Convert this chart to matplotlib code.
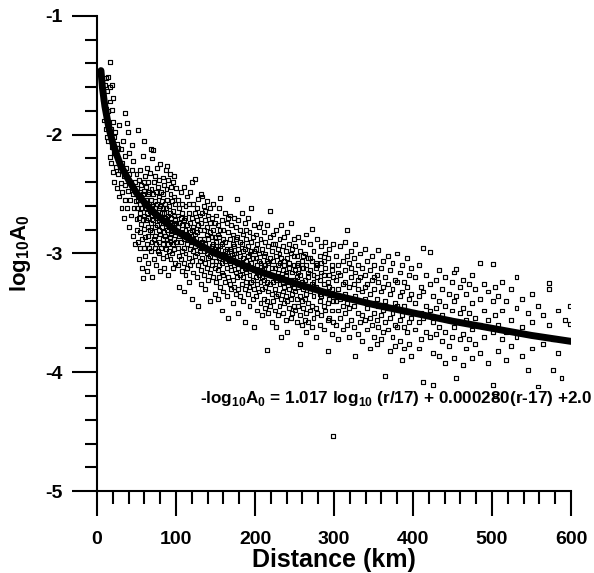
import numpy as np
import matplotlib
matplotlib.use('Agg')
import matplotlib.pyplot as plt
from matplotlib.ticker import MultipleLocator

plt.rcParams['font.family'] = ['Liberation Sans', 'DejaVu Sans']
plt.rcParams['mathtext.fontset'] = 'custom'
plt.rcParams['mathtext.rm'] = 'Liberation Sans'
plt.rcParams['mathtext.bf'] = 'Liberation Sans:bold'
plt.rcParams['axes.unicode_minus'] = False

# fitted attenuation curve
curve_r = [5, 7, 10, 15, 20, 25, 30, 40, 50, 60, 70, 80, 100, 125, 150, 200,
           250, 300, 350, 400, 450, 500, 550, 600]
curve_a = [-1.46, -1.61, -1.76, -1.94, -2.07, -2.17, -2.26, -2.38, -2.49, -2.57,
           -2.64, -2.70, -2.81, -2.91, -3.00, -3.14, -3.25, -3.35, -3.43, -3.50,
           -3.57, -3.63, -3.69, -3.74]

# observations: each distance column with its log10 A0 values
near_r = [6, 7, 8, 9, 10, 11, 12, 13, 14, 15, 16, 17, 18, 19, 20, 21, 22, 23, 24,
          25, 26, 27, 28, 29, 30, 31, 32, 33, 34, 35, 36, 37, 38, 39, 40, 41, 42,
          43, 44, 45, 46, 47, 48, 49, 50]
near_a = [[-1.52], [-1.70], [-1.62], [-1.88], [-1.58], [-1.52, -1.95], [-1.78],
          [-1.63, -2.02], [-1.51, -1.80, -2.05], [-1.92], [-1.39, -1.60, -2.19],
          [-1.72], [-1.95, -2.24], [-1.58, -1.79, -2.10], [-1.69, -1.89, -2.31],
          [-2.02], [-2.15, -2.40], [-1.98], [-2.27], [-2.08, -2.45], [-2.11, -2.33],
          [-2.20], [-1.92, -2.52], [-2.30], [-2.12, -2.41], [-2.62], [-2.24, -2.48],
          [-2.05], [-2.35, -2.70], [-2.18, -2.55], [-1.82, -2.42], [-2.28],
          [-1.90, -2.62], [-1.98, -2.47], [-2.33, -2.78], [-2.15], [-2.55, -2.40],
          [-2.68], [-2.09, -2.30], [-2.50, -2.85], [-2.22], [-2.62], [-2.40, -2.92],
          [-2.56], [-2.33, -2.71]]

mid_r = list(range(51, 101))
mid_a = [[-2.45, -2.80, -2.62], [-1.96, -2.55, -2.90], [-2.38, -2.70, -3.05],
         [-2.58, -2.48, -2.82], [-2.30, -2.66, -2.95], [-2.52, -2.75, -2.42],
         [-2.62, -2.88, -3.12], [-2.18, -2.50, -3.21, -2.72], [-2.40, -2.68, -2.95],
         [-2.05, -2.58, -2.79, -2.47], [-2.35, -2.62, -2.86, -3.02],
         [-2.55, -2.72, -2.44], [-2.28, -2.66, -2.92, -3.15], [-2.50, -2.78, -2.60],
         [-2.40, -2.70, -2.85, -3.08], [-2.58, -2.95, -2.48], [-2.32, -2.64, -2.80],
         [-2.12, -2.55, -2.74, -2.98], [-2.46, -2.68, -2.90],
         [-2.20, -2.60, -2.82, -3.20], [-2.13, -2.50, -2.72],
         [-2.40, -2.66, -2.88, -3.05], [-2.56, -2.78, -2.95], [-2.35, -2.62, -2.85],
         [-2.48, -2.70, -3.10, -2.92], [-2.28, -2.58, -2.76], [-2.44, -2.68, -2.98],
         [-2.52, -2.80, -3.00, -2.62], [-2.38, -2.72, -2.90],
         [-2.25, -2.60, -2.84, -3.15], [-2.48, -2.70, -2.95], [-2.56, -2.78, -2.66],
         [-2.36, -2.62, -2.88, -3.04], [-2.50, -2.74, -2.92],
         [-2.42, -2.66, -2.82, -3.12], [-2.58, -2.85, -2.70], [-2.30, -2.62, -2.96],
         [-2.46, -2.72, -2.88, -3.02], [-2.26, -2.55, -2.80],
         [-2.38, -2.68, -2.92, -3.18], [-2.60, -2.78, -2.98], [-2.33, -2.66, -2.86],
         [-2.50, -2.74, -3.05, -2.90], [-2.44, -2.70, -2.84], [-2.56, -2.80, -3.00],
         [-2.40, -2.64, -2.92, -3.12], [-2.52, -2.76, -2.88], [-2.35, -2.68, -2.96],
         [-2.58, -2.82, -3.08, -2.72], [-2.45, -2.74, -2.90]]

r100_r = [102, 104, 106, 108, 110, 112, 114, 116, 118, 120, 122, 124, 126, 128,
          130, 132, 133, 135, 137, 139, 141, 143, 145, 147, 149]
r100_a = [[-2.55, -2.78, -2.95, -3.10, -2.68], [-2.62, -2.85, -3.02, -2.74, -3.28],
          [-2.48, -2.70, -2.90, -3.05, -2.82], [-2.58, -2.76, -2.98, -3.15, -2.66],
          [-2.44, -2.72, -2.88, -3.08, -2.95, -3.32], [-2.60, -2.80, -3.00, -2.70, -3.18],
          [-2.52, -2.76, -2.92, -3.12, -2.84], [-2.66, -2.86, -3.04, -2.58, -3.24],
          [-2.48, -2.74, -2.96, -3.10, -2.82], [-2.40, -2.70, -2.90, -3.06, -2.80, -3.38],
          [-2.58, -2.78, -2.98, -3.16, -2.88], [-2.37, -2.66, -2.84, -3.02, -2.94],
          [-2.62, -2.82, -3.00, -3.20, -2.72], [-2.54, -2.76, -2.92, -3.10, -3.44],
          [-2.68, -2.88, -3.06, -2.80, -2.98], [-2.50, -2.74, -2.95, -3.14, -3.26],
          [-2.66, -2.90, -3.04, -2.52], [-2.60, -2.80, -2.98, -3.18, -2.88],
          [-2.72, -2.92, -3.08, -3.30, -2.64], [-2.56, -2.84, -3.00, -3.12, -2.78],
          [-2.68, -2.88, -3.04, -3.22, -2.96], [-2.62, -2.82, -3.02, -3.16, -2.74, -3.40],
          [-2.70, -2.94, -3.10, -2.86, -3.06], [-2.58, -2.80, -3.00, -3.20, -2.92],
          [-2.74, -2.96, -3.12, -3.34, -2.86]]

r150_r = [151, 153, 155, 156, 158, 160, 162, 164, 166, 168, 170, 172, 174, 176,
          177, 179, 181, 183, 185, 187, 189, 191, 193, 195, 197, 199]
r150_a = [[-2.68, -2.90, -3.06, -3.24, -2.98], [-2.76, -2.96, -3.14, -2.84, -3.38],
          [-2.62, -2.86, -3.04, -3.20, -3.10], [-2.53, -2.80, -2.94, -3.28],
          [-2.72, -2.92, -3.08, -3.16, -3.48], [-2.80, -3.00, -3.18, -2.88, -3.32],
          [-2.66, -2.90, -3.06, -3.24, -2.98], [-2.74, -2.96, -3.12, -3.36, -3.04],
          [-2.82, -3.02, -3.20, -2.70, -3.54], [-2.68, -2.88, -3.08, -3.26, -2.96],
          [-2.76, -2.98, -3.14, -3.30, -3.06], [-2.84, -3.04, -3.22, -2.92, -3.42],
          [-2.70, -2.94, -3.10, -3.28, -3.00], [-2.78, -3.00, -3.16, -3.34, -2.88],
          [-2.54, -2.86, -3.08, -3.20], [-2.72, -2.96, -3.12, -3.30, -3.50],
          [-2.80, -3.02, -3.18, -2.90, -3.36], [-2.66, -2.92, -3.08, -3.26, -3.14],
          [-2.84, -3.04, -3.20, -3.40, -2.98], [-2.74, -2.96, -3.12, -3.30, -3.58],
          [-2.88, -3.06, -3.24, -2.80, -3.16], [-2.70, -2.94, -3.10, -3.34, -3.02],
          [-2.82, -3.00, -3.18, -3.44, -3.28], [-2.62, -2.90, -3.08, -3.24, -2.98],
          [-2.86, -3.04, -3.22, -3.38, -3.12], [-2.76, -2.98, -3.14, -3.30, -3.62]]

r200_r = [201, 203, 205, 207, 209, 211, 213, 215, 217, 219, 221, 223, 225, 227,
          229, 231, 233, 235, 237, 239, 241, 243, 245, 247, 249]
r200_a = [[-2.84, -3.04, -3.20, -3.36, -2.96], [-2.92, -3.10, -3.26, -3.48, -3.16],
          [-2.78, -3.00, -3.18, -3.32, -3.06], [-2.88, -3.08, -3.24, -3.42, -2.74],
          [-2.96, -3.14, -3.30, -3.52, -3.20], [-2.82, -3.02, -3.22, -3.38, -3.12],
          [-2.90, -3.10, -3.28, -3.46, -3.00], [-2.76, -3.06, -3.24, -3.40, -3.81],
          [-2.94, -3.16, -3.32, -3.50, -3.08], [-2.64, -2.86, -3.04, -3.26, -3.44],
          [-2.98, -3.18, -3.34, -3.12, -3.58], [-2.84, -3.06, -3.24, -3.40, -2.92],
          [-2.92, -3.12, -3.30, -3.48, -3.20], [-2.80, -3.02, -3.22, -3.36, -3.62],
          [-2.96, -3.16, -3.34, -3.52, -3.10], [-2.88, -3.08, -3.26, -3.44, -3.00],
          [-2.76, -3.04, -3.20, -3.38, -3.70], [-2.94, -3.14, -3.32, -3.50, -3.24],
          [-2.86, -3.10, -3.28, -3.42, -3.06], [-2.98, -3.18, -3.36, -3.56, -3.16],
          [-2.82, -3.04, -3.24, -3.40, -3.66], [-2.92, -3.12, -3.30, -3.46, -3.08],
          [-2.74, -3.00, -3.22, -3.38, -3.54], [-2.96, -3.16, -3.34, -3.50, -3.26],
          [-2.88, -3.10, -3.28, -3.44, -3.02]]

r250_r = [251, 253, 255, 257, 259, 261, 263, 265, 267, 270, 272, 274, 277, 279,
          282, 284, 287, 289, 292, 294, 297, 299]
r250_a = [[-2.94, -3.14, -3.32, -3.48, -3.22], [-3.02, -3.20, -3.38, -3.58, -3.10],
          [-2.86, -3.08, -3.28, -3.44, -3.16], [-2.98, -3.18, -3.36, -3.52, -3.76],
          [-3.06, -3.24, -3.40, -3.60, -3.12], [-2.90, -3.12, -3.30, -3.46, -3.02],
          [-3.00, -3.22, -3.38, -3.56, -3.28], [-2.84, -3.10, -3.34, -3.50, -3.66],
          [-3.04, -3.20, -3.42, -3.16, -3.58], [-2.92, -3.14, -3.32, -3.48, -3.04],
          [-2.79, -3.06, -3.26, -3.44, -3.62], [-2.98, -3.18, -3.36, -3.54, -3.24],
          [-3.08, -3.28, -3.46, -3.12, -3.70], [-2.88, -3.10, -3.30, -3.50, -3.20],
          [-3.02, -3.22, -3.40, -3.60, -3.34], [-2.94, -3.16, -3.36, -3.52, -3.08],
          [-3.06, -3.26, -3.44, -3.64, -3.18], [-2.90, -3.12, -3.32, -3.48, -3.00],
          [-3.04, -3.24, -3.42, -3.82, -3.56], [-2.96, -3.18, -3.38, -3.54, -3.28],
          [-3.10, -3.30, -3.48, -3.14, -3.68], [-2.92, -3.20, -3.40, -3.58, -4.54]]

r300_r = [302, 305, 308, 311, 314, 316, 319, 322, 325, 327, 330, 333, 336, 339,
          342, 345, 348, 351, 354, 356, 359, 362, 365, 368, 371, 374, 377, 380,
          383, 386, 389, 392, 395, 398]
r300_a = [[-3.02, -3.22, -3.40, -3.60], [-3.10, -3.30, -3.48, -3.16, -3.72],
          [-2.94, -3.18, -3.38, -3.54], [-3.06, -3.26, -3.44, -3.64],
          [-2.90, -3.14, -3.34, -3.50, -3.24], [-2.80, -3.02, -3.42, -3.60],
          [-3.08, -3.28, -3.46, -3.70], [-2.98, -3.20, -3.38, -3.56, -3.12],
          [-3.04, -3.26, -3.44, -3.62], [-2.92, -3.16, -3.36, -3.86],
          [-3.10, -3.30, -3.50, -3.68, -3.22], [-3.00, -3.20, -3.40, -3.58],
          [-3.12, -3.32, -3.52, -3.74], [-2.96, -3.18, -3.38, -3.56, -3.28],
          [-3.06, -3.26, -3.46, -3.64], [-3.14, -3.34, -3.54, -3.80],
          [-3.02, -3.22, -3.42, -3.60], [-3.10, -3.30, -3.50, -3.70, -3.20],
          [-3.18, -3.38, -3.56, -3.76], [-2.97, -3.24, -3.44, -3.62],
          [-3.12, -3.32, -3.52, -3.72], [-3.06, -3.28, -3.48, -3.66],
          [-3.20, -3.40, -3.58, -4.03], [-3.02, -3.26, -3.46, -3.64],
          [-3.14, -3.34, -3.54, -3.82], [-3.08, -3.30, -3.50, -3.70],
          [-3.22, -3.42, -3.60, -3.78], [-3.00, -3.24, -3.44, -3.62],
          [-3.16, -3.36, -3.56, -3.74], [-3.10, -3.32, -3.52, -3.90],
          [-3.24, -3.44, -3.62, -3.80], [-3.04, -3.28, -3.48, -3.66],
          [-3.18, -3.38, -3.58, -3.76], [-3.12, -3.34, -3.54, -3.86]]

r400_r = [403, 407, 410, 413, 417, 421, 425, 429, 433, 437, 441, 445, 449, 452,
          455, 459, 463, 467, 471, 475, 479, 485, 490, 495, 501, 504]
r400_a = [[-3.20, -3.42, -3.64], [-3.10, -3.36, -3.58, -3.80], [-3.28, -3.50, -3.72],
          [-2.95, -3.32, -3.54, -4.08], [-3.18, -3.44, -3.66],
          [-2.99, -3.26, -3.48, -3.70], [-3.36, -3.58, -3.84, -4.11],
          [-3.22, -3.46, -3.68], [-3.14, -3.40, -3.62, -3.86], [-3.30, -3.52, -3.74],
          [-3.20, -3.44, -3.66, -3.92], [-3.34, -3.56, -3.78], [-3.24, -3.48, -3.70],
          [-3.16, -3.40, -3.62, -3.88], [-3.13, -3.36, -3.58, -4.05],
          [-3.28, -3.50, -3.72], [-3.22, -3.46, -3.68, -3.94], [-3.34, -3.56, -3.80],
          [-3.26, -3.50, -3.72], [-3.18, -3.42, -3.64, -3.88], [-3.30, -3.54, -3.76],
          [-3.08, -3.38, -3.60, -3.84], [-3.26, -3.48, -3.70], [-3.32, -3.56, -3.92],
          [-3.09, -3.40, -3.66, -4.11], [-3.28, -3.52, -4.20]]

r500_r = [508, 513, 518, 524, 531, 538, 545, 551, 558, 565, 572, 577, 583, 588, 592, 599]
r500_a = [[-3.36, -3.60, -3.82], [-3.24, -3.48, -3.72], [-3.40, -3.66, -3.90],
          [-3.30, -3.56, -3.78], [-3.20, -3.46, -3.70], [-3.38, -3.62, -3.86],
          [-3.50, -3.98], [-3.34, -3.58, -3.80], [-3.44, -4.12], [-3.52, -3.76],
          [-3.25, -3.30, -3.60], [-3.98, -3.72], [-3.48, -3.84], [-4.05], [-3.56],
          [-3.44, -3.59]]

groups = [(near_r, near_a), (mid_r, mid_a), (r100_r, r100_a), (r150_r, r150_a),
          (r200_r, r200_a), (r250_r, r250_a), (r300_r, r300_a), (r400_r, r400_a),
          (r500_r, r500_a)]

dist, amp = [], []
for rs, cols in groups:
    for r, vals in zip(rs, cols):
        for v in vals:
            dist.append(r)
            amp.append(v)

fig = plt.figure(figsize=(5.94, 5.73), dpi=100)
ax = fig.add_axes([0.1633, 0.1431, 0.7980, 0.8290])

ax.scatter(dist, amp, s=8, marker='s', facecolors='none', edgecolors='black',
           linewidths=0.85, zorder=2)
ax.plot(curve_r, curve_a, color='black', lw=5, solid_capstyle='round', zorder=3)

ax.set_xlim(0, 600)
ax.set_ylim(-5, -1)
for side in ['top', 'right']:
    ax.spines[side].set_visible(False)
for side in ['left', 'bottom']:
    ax.spines[side].set_linewidth(1.5)

ax.xaxis.set_major_locator(MultipleLocator(100))
ax.xaxis.set_minor_locator(MultipleLocator(20))
ax.yaxis.set_major_locator(MultipleLocator(1))
ax.yaxis.set_minor_locator(MultipleLocator(0.2))
ax.tick_params(which='major', direction='out', length=18, width=1.5, labelsize=14)
ax.tick_params(which='minor', direction='out', length=9, width=1.5)
ax.tick_params(axis='x', which='major', pad=11)
ax.tick_params(axis='y', which='major', pad=7)
for lab in ax.get_xticklabels() + ax.get_yticklabels():
    lab.set_fontweight('bold')

ax.set_xlabel('Distance (km)', fontsize=18, fontweight='bold', labelpad=0)
ax.set_ylabel(r'log$_{\mathbf{10}}$A$_{\mathbf{0}}$', fontsize=16, fontweight='bold')
ax.yaxis.set_label_coords(-0.135, 0.5)

ax.text(130, -4.22,
        r'-log$_{\mathbf{10}}$A$_{\mathbf{0}}$ = 1.017 log$_{\mathbf{10}}$ (r/17) + 0.000280(r-17) +2.0',
        fontsize=12.3, fontweight='bold', ha='left', va='center', clip_on=False)

fig.savefig('out.png', dpi=100)
